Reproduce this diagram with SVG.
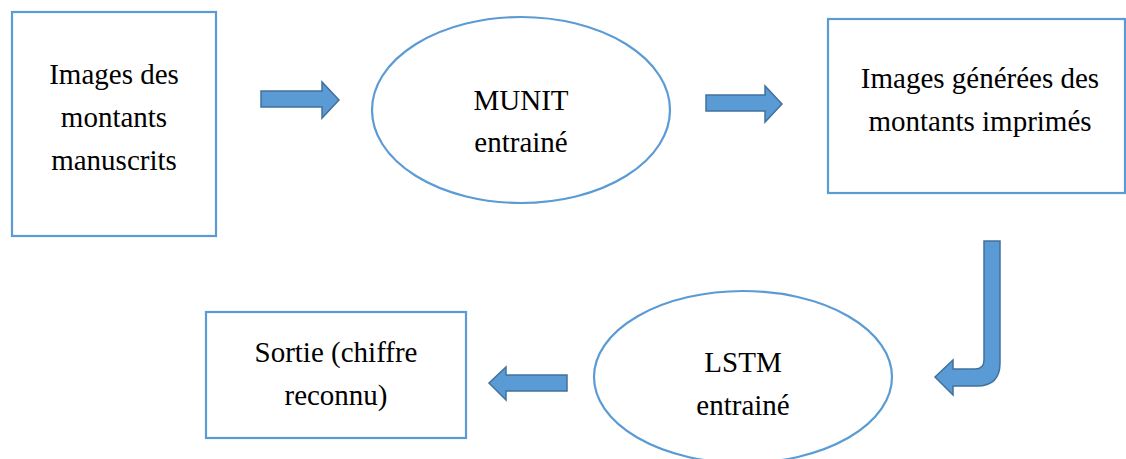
<svg xmlns="http://www.w3.org/2000/svg" width="1126" height="459" viewBox="0 0 1126 459">
<style>
.node{fill:#fff;stroke:#5B9BD5;stroke-width:2.2}
.arr{fill:#5B9BD5;stroke:#41719C;stroke-width:1.5;stroke-linejoin:miter}
text{font-family:"Liberation Serif","Times New Roman",serif;font-size:29px;fill:#000;text-anchor:middle}
</style>
<rect width="1126" height="459" fill="#fff"/>
<g id="connectors">
<path class="arr" d="M261,91 H322 V82 L339,100 L322,118 V107 H261 Z"/>
<path class="arr" d="M706,95 H765 V86 L782,104 L765,122 V111 H706 Z"/>
<path class="arr" d="M567,375 H506 V367 L489,383 L506,400 V391 H567 Z"/>
<path class="arr" d="M984,241 H1000 V363 Q1000,386 977,386 H953 V395 L935,377 L953,360 V369 H975 Q984,369 984,360 Z"/>
</g>
<g id="n1">
<rect class="node" x="12" y="12" width="204" height="224"/>
<text x="114" y="84">Images des</text>
<text x="114" y="127">montants</text>
<text x="114" y="170">manuscrits</text>
</g>
<g id="n2">
<ellipse class="node" cx="521" cy="110" rx="149" ry="93"/>
<text x="521" y="110">MUNIT</text>
<text x="521" y="152">entrainé</text>
</g>
<g id="n3">
<rect class="node" x="828" y="19" width="297" height="174"/>
<text x="980" y="88">Images générées des</text>
<text x="980" y="131">montants imprimés</text>
</g>
<g id="n4">
<ellipse class="node" cx="743" cy="377" rx="149" ry="86"/>
<text x="743" y="372">LSTM</text>
<text x="743" y="415">entrainé</text>
</g>
<g id="n5">
<rect class="node" x="206" y="312" width="260" height="126"/>
<text x="336" y="362">Sortie (chiffre</text>
<text x="336" y="405">reconnu)</text>
</g>
</svg>
